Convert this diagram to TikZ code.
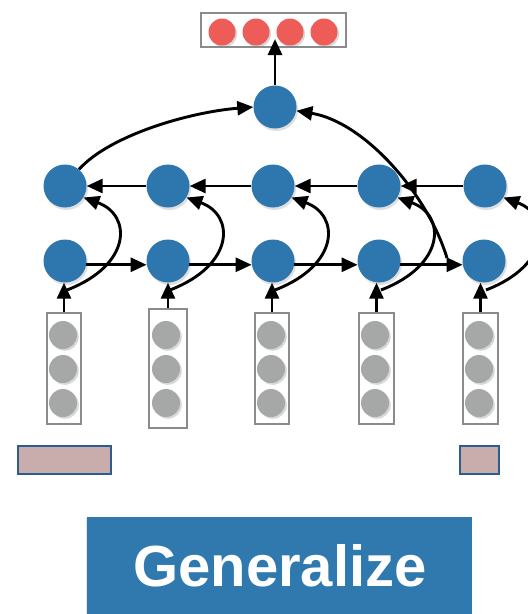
\documentclass[tikz,border=0pt]{standalone}
\usepackage{fontspec}
\setmainfont{Liberation Sans}
\usetikzlibrary{arrows.meta,shadows}
\definecolor{nblue}{HTML}{2E77AE}
\definecolor{nred}{HTML}{EE5C58}
\definecolor{ngray}{HTML}{A6A8A7}
\definecolor{bgray}{HTML}{8A8B8C}
\definecolor{pinkf}{HTML}{C8ADAC}
\definecolor{pinkb}{HTML}{2B5D8E}
\definecolor{banner}{HTML}{2F79AF}
\tikzset{
  hid/.style={circle, fill=nblue, minimum size=43pt, inner sep=0pt, draw=none,
    drop shadow={shadow xshift=1.5pt, shadow yshift=-2.5pt, opacity=0.25}},
  outc/.style={circle, fill=nred, minimum size=27pt, inner sep=0pt,
    drop shadow={shadow xshift=1.5pt, shadow yshift=-2pt, opacity=0.3}},
  inc/.style={circle, fill=ngray, minimum size=28pt, inner sep=0pt,
    drop shadow={shadow xshift=1.8pt, shadow yshift=-1.8pt, opacity=0.3}},
  vecbox/.style={rectangle, draw=bgray, line width=2pt, fill=white, inner sep=0pt},
  pinkbox/.style={rectangle, draw=pinkb, fill=pinkf, line width=2pt, inner sep=0pt, minimum height=28pt},
  arr/.style={line width=2.9pt, -{Triangle[length=16pt,width=14pt]}},
}
\begin{document}
\begin{tikzpicture}[x=1pt,y=-1pt]
\useasboundingbox (0,0) rectangle (528,614);
% output vector
\node[vecbox, minimum width=145pt, minimum height=34pt] (outbox) at (273.5,30) {};
\node[outc] (o1) at (222,32) {};
\node[outc] (o2) at (256,32) {};
\node[outc] (o3) at (290,32) {};
\node[outc] (o4) at (324,32) {};
% input vectors
\node[vecbox, minimum width=34pt, minimum height=111pt] (in1) at (64,368.5) {};
\node[vecbox, minimum width=38pt, minimum height=119pt] (in2) at (168,368.5) {};
\node[vecbox, minimum width=34pt, minimum height=111pt] (in3) at (272,368.5) {};
\node[vecbox, minimum width=35pt, minimum height=111pt] (in4) at (376.5,368.5) {};
\node[vecbox, minimum width=35pt, minimum height=111pt] (in5) at (480.5,368.5) {};
\foreach \n/\x in {1/63,2/166,3/271,4/375,5/479}{
  \node[inc] (g\n a) at (\x,335) {};
  \node[inc] (g\n b) at (\x,369) {};
  \node[inc] (g\n c) at (\x,403) {};
}
% hidden nodes
\node[hid] (top) at (275,107) {};
\node[hid] (u1) at (65,186) {};
\node[hid] (u2) at (168,186) {};
\node[hid] (u3) at (273,186) {};
\node[hid] (u4) at (379,186) {};
\node[hid] (u5) at (485,186) {};
\node[hid] (l1) at (65,261) {};
\node[hid] (l2) at (168,261) {};
\node[hid] (l3) at (273,261) {};
\node[hid] (l4) at (379,261) {};
\node[hid] (l5) at (484,261) {};
% forward row
\draw[arr] (l1.-10) -- (l2.190);
\draw[arr] (l2.-10) -- (l3.190);
\draw[arr] (l3.-10) -- (l4.190);
\draw[arr] (l4.-10) -- (l5.190);
% backward row
\draw[arr] (u5.west) -- (u4.east);
\draw[arr] (u4.west) -- (u3.east);
\draw[arr] (u3.west) -- (u2.east);
\draw[arr] (u2.west) -- (u1.east);
% inputs
\foreach \n in {1,...,5}{
  \draw[arr] (in\n.north) -- (in\n.north |- l\n.south);
}
% lower to upper curves
\foreach \n in {1,...,5}{
  \draw[arr] ([shift={(2,29)}]l\n.center) .. controls ([shift={(67,4)}]l\n.center) and ([shift={(67,-46)}]l\n.center) .. (u\n.-32);
}
% to top node
\draw[arr] (u1.50) .. controls (110,135) and (190,112) .. (top.west);
\coordinate (c5) at (447,258);
\draw[arr] (c5) .. controls (428,195) and (365,122) .. (top.-10);
\draw[arr] (top.north) -- ([yshift=9pt]top.north |- outbox.south);
% bottom boxes
\node[pinkbox, minimum width=93pt] (p1) at (64.5,460) {};
\node[pinkbox, minimum width=39pt] (p2) at (479.5,460) {};
% banner
\node[rectangle, fill=banner, minimum width=385pt, minimum height=97pt, inner sep=0pt,
  drop shadow={shadow xshift=-1.5pt, shadow yshift=-1pt, opacity=0.2}] (banner) at (279.5,565.5) {};
\node[text=white, font=\bfseries\fontsize{58}{60}\selectfont] (gen) at (280,566) {Generalize};
\end{tikzpicture}
\end{document}
